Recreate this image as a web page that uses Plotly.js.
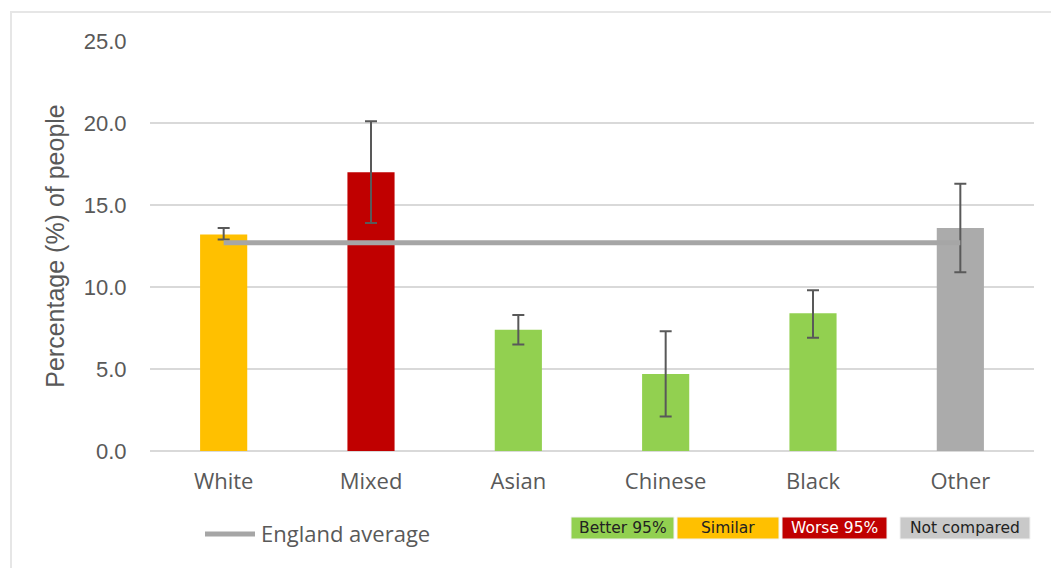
<!DOCTYPE html>
<html>
<head>
<meta charset="utf-8">
<script src="https://cdn.plot.ly/plotly-3.0.1.min.js"></script>
<style>
  html, body { margin: 0; padding: 0; background: #fff; }
  #wrap { position: relative; width: 1051px; height: 568px; overflow: hidden; }
  #frame { position: absolute; left: 10px; top: 11px; width: 1100px; height: 600px;
           border-left: 2px solid #e6e6e6; border-top: 2px solid #e6e6e6; pointer-events: none; }
  #chart { position: absolute; left: 0; top: 0; width: 1051px; height: 568px; }
</style>
</head>
<body>
<div id="wrap">
  <div id="chart"></div>
  <div id="frame"></div>
</div>
<script>
const categories = ["White", "Mixed", "Asian", "Chinese", "Black", "Other"];
const values = [13.2, 17.0, 7.4, 4.7, 8.4, 13.6];
const upperCI = [13.6, 20.1, 8.3, 7.3, 9.8, 16.3];
const lowerCI = [12.9, 13.9, 6.5, 2.1, 6.9, 10.9];
const significance = ["Similar", "Worse 95%", "Better 95%", "Better 95%", "Better 95%", "Not compared"];
const englandAverage = 12.7;
const yTickValues = [0, 5, 10, 15, 20, 25];
const yTickLabels = ["0.0", "5.0", "10.0", "15.0", "20.0", "25.0"];
const keyLabels = ["Better 95%", "Similar", "Worse 95%", "Not compared"];

const sigColors = {
  "Better 95%": "#92D050",
  "Similar": "#FFC000",
  "Worse 95%": "#C00000",
  "Not compared": "#ABABAB"
};
const keyFill = {
  "Better 95%": "#92D050",
  "Similar": "#FFC000",
  "Worse 95%": "#C00000",
  "Not compared": "#C9C9C9"
};
const keyText = {
  "Better 95%": "#222222",
  "Similar": "#222222",
  "Worse 95%": "#ffffff",
  "Not compared": "#222222"
};

const bars = {
  type: "bar",
  x: categories,
  y: values,
  width: 0.32,
  marker: { color: significance.map(s => sigColors[s]) },
  error_y: {
    type: "data",
    symmetric: false,
    array: upperCI.map((u, i) => u - values[i]),
    arrayminus: values.map((v, i) => v - lowerCI[i]),
    color: "#595959",
    thickness: 2,
    width: 6
  },
  hoverinfo: "x+y",
  showlegend: false
};

const avgLine = {
  type: "scatter",
  mode: "lines",
  x: [categories[0], categories[categories.length - 1]],
  y: [englandAverage, englandAverage],
  line: { color: "#A6A6A6", width: 5 },
  showlegend: false,
  hoverinfo: "y"
};

// plot area: x 150..1034, y 41..451
const px = v => (v - 150) / 884;
const py = v => (451 - v) / 410;

const keyBoxes = [[571, 674], [677, 779], [782, 887], [900, 1030]];
const shapes = [
  { type: "line", xref: "paper", yref: "paper", x0: px(205), x1: px(255), y0: py(534), y1: py(534),
    line: { color: "#A6A6A6", width: 5 } }
];
const annotations = [
  { xref: "paper", yref: "paper", x: px(259), y: py(533), xanchor: "left", yanchor: "middle",
    text: "England average", showarrow: false,
    font: { family: "Open Sans, Liberation Sans, sans-serif", size: 22, color: "#595959" } }
];
keyLabels.forEach((lab, i) => {
  const [a, b] = keyBoxes[i];
  shapes.push({ type: "rect", xref: "paper", yref: "paper", x0: px(a), x1: px(b), y0: py(539), y1: py(517),
    fillcolor: keyFill[lab], line: { color: "#f2f2f2", width: 1 } });
  annotations.push({ xref: "paper", yref: "paper", x: px((a + b) / 2), y: py(528), xanchor: "center", yanchor: "middle",
    text: lab, showarrow: false,
    font: { family: "DejaVu Sans, Liberation Sans, sans-serif", size: 15.5, color: keyText[lab] } });
});

const layout = {
  width: 1051, height: 568,
  margin: { l: 150, r: 17, t: 41, b: 117 },
  paper_bgcolor: "rgba(0,0,0,0)",
  plot_bgcolor: "#ffffff",
  bargap: 0.68,
  xaxis: {
    type: "category",
    categoryorder: "array",
    categoryarray: categories,
    showgrid: false,
    zeroline: false,
    showline: false,
    ticks: "outside",
    ticklen: 11,
    tickcolor: "rgba(0,0,0,0)",
    tickfont: { family: "Open Sans, Liberation Sans, sans-serif", size: 22, color: "#595959" },
    fixedrange: true
  },
  yaxis: {
    range: [0, 25],
    tickvals: yTickValues,
    ticktext: yTickLabels,
    showgrid: true,
    gridcolor: "#D9D9D9",
    gridwidth: 2,
    zeroline: true,
    zerolinecolor: "#D9D9D9",
    zerolinewidth: 2,
    showline: false,
    ticks: "outside",
    ticklen: 18,
    tickcolor: "rgba(0,0,0,0)",
    tickfont: { family: "Liberation Sans, Arial, sans-serif", size: 22, color: "#595959" },
    title: { text: "Percentage (%) of people", standoff: 12,
      font: { family: "Liberation Sans, Arial, sans-serif", size: 25, color: "#595959" } },
    fixedrange: true
  },
  shapes: shapes,
  annotations: annotations,
  showlegend: false
};

Plotly.newPlot("chart", [bars, avgLine], layout, { displayModeBar: false, staticPlot: true });
</script>
</body>
</html>
